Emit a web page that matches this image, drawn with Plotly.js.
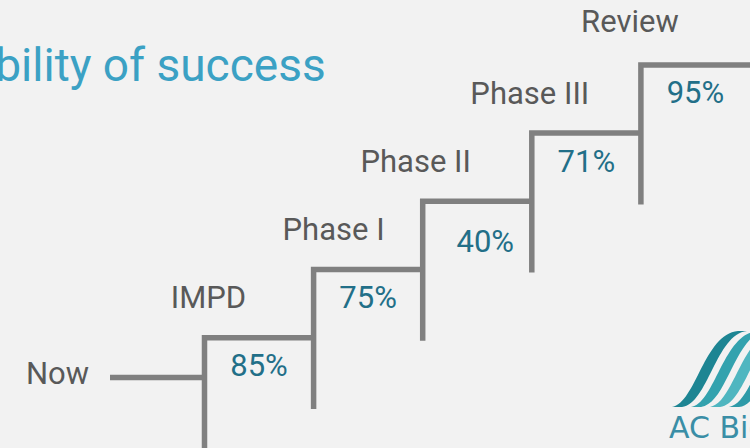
<!DOCTYPE html>
<html>
<head>
<meta charset="utf-8">
<script src="https://cdn.plot.ly/plotly-3.0.1.min.js"></script>
<style>html,body{margin:0;padding:0;background:#f2f2f2;}#chart{width:750px;height:448px;}</style>
</head>
<body>
<div id="chart"></div>
<script>
// ---- data ----
const stages = ["Now", "IMPD", "Phase I", "Phase II", "Phase III", "Review"];
const successRates = ["85%", "75%", "40%", "71%", "95%"];
const titleText = "Probability of success";
const logoText = "AC Bio";

// ---- geometry / layout constants (not data) ----
const W = 750, H = 448;
const X0PX = 204.5, XU = 109.1;   // pixel of x=0, pixels per step
const Y0PX = 337.7, YU = 68.2;    // pixel of y=0, pixels per step
const DROP = 139.5 / YU;          // length of each riser
const NOW_Y = (Y0PX - 377.5) / YU;
const NOW_X0 = (110 - X0PX) / XU;
// small pixel nudges of label placement, as in the reference slide
const stageNudge = [[4, 0], [20, 0], [-7, 0], [-2, 0], [-11, 4]];
const pctNudge = [[0, 0], [0, 0], [8, -12], [0, 0], [0, 1]];

const n = successRates.length;
const sx = [], sy = [];
sx.push(NOW_X0, 0, null); sy.push(NOW_Y, NOW_Y, null);
for (let i = 0; i < n; i++) {
  const end = (i === n - 1) ? i + 1.5 : i + 1;
  sx.push(i, i, end, null);
  sy.push(i - DROP, i, i, null);
}

const stair = {
  type: 'scatter', mode: 'lines', x: sx, y: sy,
  line: {color: '#808080', width: 5.5}, hoverinfo: 'skip', connectgaps: false
};

const pctTrace = {
  type: 'scatter', mode: 'text',
  x: successRates.map((_, i) => i + 0.5 + pctNudge[i][0] / XU),
  y: successRates.map((_, i) => i - 31 / YU + pctNudge[i][1] / YU),
  text: successRates, textposition: 'middle center',
  textfont: {family: 'Roboto', size: 31, color: '#226f88'}, hoverinfo: 'skip'
};

const stageTrace = {
  type: 'scatter', mode: 'text',
  x: stages.slice(1).map((_, k) => k + stageNudge[k][0] / XU),
  y: stages.slice(1).map((_, k) => k + 37 / YU + stageNudge[k][1] / YU),
  text: stages.slice(1), textposition: 'middle center',
  textfont: {family: 'Roboto', size: 31, color: '#595959'}, hoverinfo: 'skip'
};

const nowTrace = {
  type: 'scatter', mode: 'text',
  x: [NOW_X0 - 21 / XU], y: [NOW_Y + 1 / YU],
  text: [stages[0]], textposition: 'middle left',
  textfont: {family: 'Roboto', size: 31, color: '#595959'}, hoverinfo: 'skip'
};

const px = v => v / W, py = v => 1 - v / H;
function stripe(x0) {
  const P = (x, y) => px(x).toFixed(5) + ',' + py(y).toFixed(5);
  return 'M' + P(x0, 407) +
    ' C' + P(x0 + 24, 403) + ' ' + P(x0 + 32, 334) + ' ' + P(x0 + 66, 331) +
    ' L' + P(x0 + 75, 331) +
    ' C' + P(x0 + 44, 334) + ' ' + P(x0 + 36, 404) + ' ' + P(x0 + 10, 407) + ' Z';
}
const stripeColors = ['#1d8593', '#33a2ae', '#4fb6c0', '#2e9aa8'];
const shapes = stripeColors.map((c, k) => ({
  type: 'path', xref: 'paper', yref: 'paper', path: stripe(672 + 19 * k),
  fillcolor: c, line: {width: 0}, layer: 'above'
}));

const layout = {
  width: W, height: H,
  margin: {l: 0, r: 0, t: 0, b: 0, pad: 0},
  paper_bgcolor: '#f2f2f2', plot_bgcolor: '#f2f2f2',
  showlegend: false,
  xaxis: {range: [-X0PX / XU, (W - X0PX) / XU], visible: false, fixedrange: true},
  yaxis: {range: [(Y0PX - H) / YU, Y0PX / YU], visible: false, fixedrange: true},
  shapes: shapes,
  annotations: [
    {xref: 'paper', yref: 'paper', x: px(328), y: py(65), xanchor: 'right', yanchor: 'middle',
     text: titleText, showarrow: false, font: {family: 'Roboto', size: 46, color: '#3ba1c4'}},
    {xref: 'paper', yref: 'paper', x: px(667), y: py(427), xanchor: 'left', yanchor: 'middle',
     text: logoText, showarrow: false, font: {family: 'DejaVu Sans', size: 30, color: '#3a8ea6'}}
  ]
};

Plotly.newPlot('chart', [stair, pctTrace, stageTrace, nowTrace], layout, {displayModeBar: false, staticPlot: true});
</script>
</body>
</html>
